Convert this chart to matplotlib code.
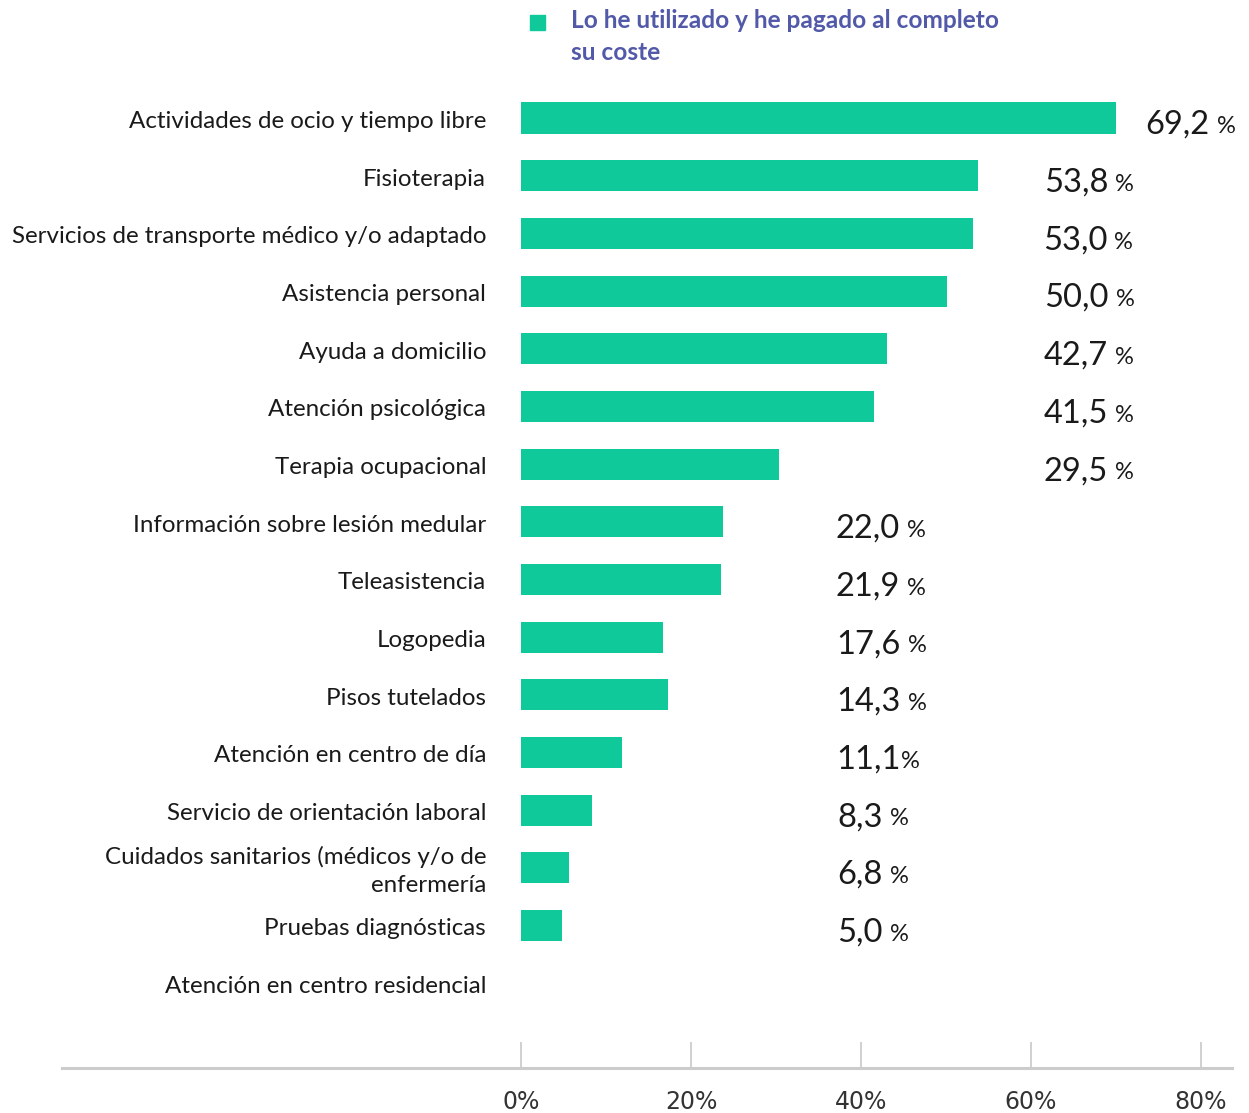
import matplotlib
matplotlib.use("Agg")
from matplotlib import pyplot as plt

categories = [
    "Actividades de ocio y tiempo libre",
    "Fisioterapia",
    "Servicios de transporte médico y/o adaptado",
    "Asistencia personal",
    "Ayuda a domicilio",
    "Atención psicológica",
    "Terapia ocupacional",
    "Información sobre lesión medular",
    "Teleasistencia",
    "Logopedia",
    "Pisos tutelados",
    "Atención en centro de día",
    "Servicio de orientación laboral",
    "Cuidados sanitarios (médicos y/o de\nenfermería",
    "Pruebas diagnósticas",
    "Atención en centro residencial",
]
# bar lengths as drawn in the original (they do not always match the printed labels)
bar_values = [70.0, 53.8, 53.2, 50.1, 43.1, 41.5, 30.4, 23.8, 23.5, 16.7, 17.3, 11.9, 8.4, 5.6, 4.8, 0]
value_labels = ["69,2", "53,8", "53,0", "50,0", "42,7", "41,5", "29,5",
                "22,0", "21,9", "17,6", "14,3", "11,1", "8,3", "6,8", "5,0", ""]
label_x = [73.5, 61.5, 61.4, 61.6, 61.5, 61.5, 61.5,
           37.0, 37.0, 37.1, 37.1, 37.1, 37.2, 37.2, 37.2, 0]
legend_label = "Lo he utilizado y he pagado al completo\nsu coste"

teal = "#0FC99A"
purple = "#5159A8"
txt = "#1a1a1a"

plt.rcParams["font.family"] = ["Lato", "DejaVu Sans"]

fig = plt.figure(figsize=(12.49, 11.13), dpi=100)
ax = fig.add_axes([62 / 1249, 1 - 1068 / 1113, (1232 - 62) / 1249, (1068 - 80) / 1113])

ypos = list(range(len(categories)))
ax.barh(ypos, bar_values, height=0.54, color=teal, left=0)
ax.set_xlim(-54, 83.65)
ax.set_ylim(16.47, -0.66)

for i, cat in enumerate(categories):
    ax.text(-4.1, i + 0.06, cat, ha="right", va="center", fontsize=17.4, color=txt,
            multialignment="right", linespacing=1.4)

for i, lab in enumerate(value_labels):
    if not lab:
        continue
    t = ax.text(label_x[i], i + 0.12, lab, ha="left", va="center", fontsize=23.5, color=txt)
    gap = 0 if lab == "11,1" else 5
    ax.annotate("%", xy=(1, 0), xycoords=t, xytext=(gap, 2), textcoords="offset points",
                ha="left", va="bottom", fontsize=17, color=txt)

for s in ["top", "left", "right"]:
    ax.spines[s].set_visible(False)
ax.spines["bottom"].set_color("#cccccc")
ax.spines["bottom"].set_linewidth(2.2)
ax.set_yticks([])
ax.set_xticks([0, 20, 40, 60, 80])
ax.set_xticklabels(["0%", "20%", "40%", "60%", "80%"],
                   family=["Liberation Sans Narrow", "DejaVu Sans"], fontsize=17, color="#333333")
ax.tick_params(axis="x", direction="in", length=19, width=1.2, color="#c8c8c8", pad=16)

# legend
fig.patches.append(plt.Rectangle((530 / 1249, 1 - 30 / 1113), 15 / 1249, 15 / 1113,
                                 transform=fig.transFigure, color=teal))
fig.text(571 / 1249, 1 - 9 / 1113, legend_label, ha="left", va="top", fontsize=17.6,
         fontweight="bold", color=purple, linespacing=1.45)

fig.savefig("out.png", dpi=100)
